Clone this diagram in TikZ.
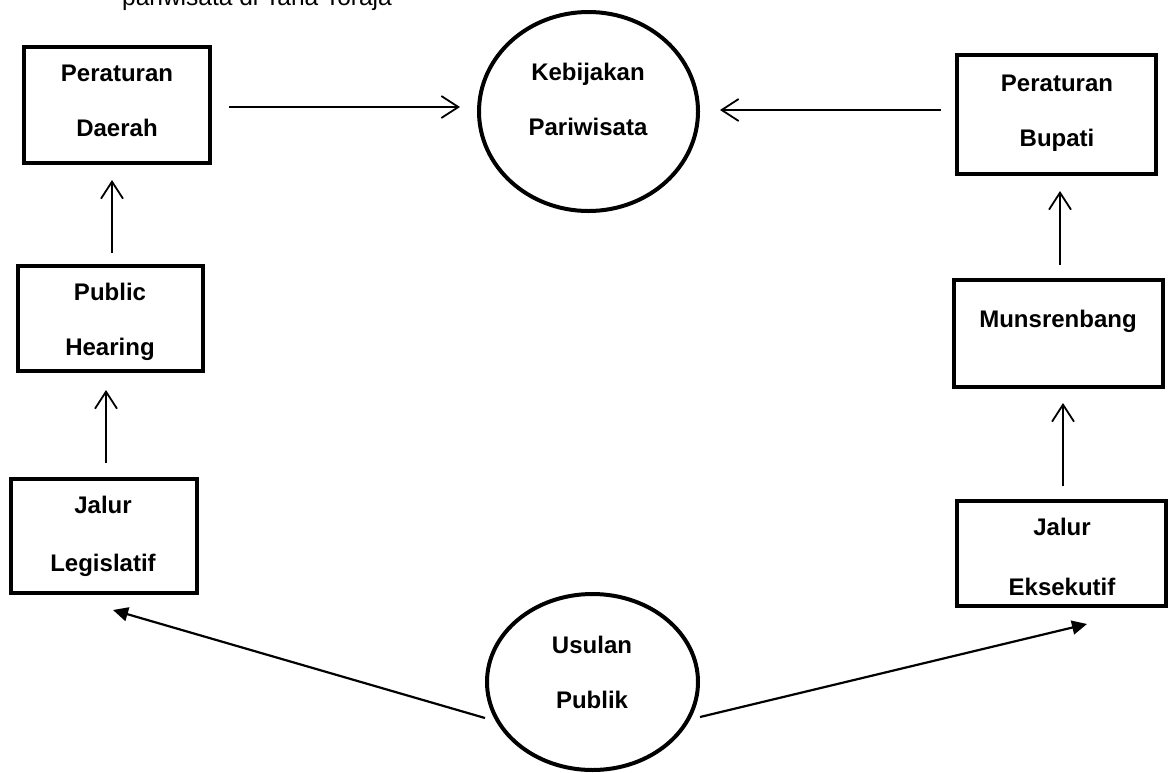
\documentclass[tikz,border=0pt]{standalone}
\usepackage{fontspec}
\setmainfont{Liberation Sans}
\usetikzlibrary{shapes.geometric,arrows.meta,calc}
\begin{document}
\begin{tikzpicture}[x=1pt,y=-1pt,
  boxnode/.style={draw,line width=4pt,rectangle,inner sep=0pt},
  ovalnode/.style={draw,line width=4pt,ellipse,inner sep=0pt},
  lbl/.style={anchor=base,inner sep=0pt,font=\bfseries\fontsize{24}{28}\selectfont},
  openarr/.style={line width=1.8pt,-{Straight Barb[length=17pt,width=22pt,line width=1.8pt]}},
  fillarr/.style={line width=2.2pt,-{Triangle[length=15pt,width=14pt]}}]
\useasboundingbox (0,0) rectangle (1170,772);
\clip (0,0) rectangle (1170,772);
\fill[white] (0,0) rectangle (1170,772);

\node[anchor=base west,inner sep=0pt,font=\fontsize{24.5}{28}\selectfont] (title) at (122,5) {pariwisata di Tana Toraja};

% shapes
\node[boxnode,minimum width=186pt,minimum height=116pt] (pd) at (117,105) {};
\node[boxnode,minimum width=185pt,minimum height=105pt] (ph) at (110.5,318.5) {};
\node[boxnode,minimum width=186pt,minimum height=114pt] (jl) at (104,536) {};
\node[ovalnode,minimum width=219pt,minimum height=199pt] (keb) at (588.5,111.5) {};
\node[boxnode,minimum width=199pt,minimum height=119pt] (pb) at (1056.5,114.5) {};
\node[boxnode,minimum width=209pt,minimum height=107pt] (mu) at (1058.5,333.5) {};
\node[boxnode,minimum width=209pt,minimum height=105pt] (je) at (1061.5,553.5) {};
\node[ovalnode,minimum width=211pt,minimum height=176pt] (us) at (592.5,682) {};

% labels
\node[lbl] (pd1) at (117,81.6) {Peraturan};
\node[lbl] (pd2) at (117,136.6) {Daerah};
\node[lbl] (ph1) at (110,300.6) {Public};
\node[lbl] (ph2) at (110,355.6) {Hearing};
\node[lbl] (jl1) at (103,513.6) {Jalur};
\node[lbl] (jl2) at (103,571.6) {Legislatif};
\node[lbl] (keb1) at (588,80.6) {Kebijakan};
\node[lbl] (keb2) at (588,135.6) {Pariwisata};
\node[lbl] (pb1) at (1057,91.6) {Peraturan};
\node[lbl] (pb2) at (1057,146.6) {Bupati};
\node[lbl] (mu1) at (1058,327.6) {Munsrenbang};
\node[lbl] (je1) at (1062,535.6) {Jalur};
\node[lbl] (je2) at (1062,595.6) {Eksekutif};
\node[lbl] (us1) at (592,653.6) {Usulan};
\node[lbl] (us2) at (592,708.6) {Publik};

% connectors
\draw[openarr] ($(pd.east)+(17,2)$) -- ($(keb.west)+(-17,-4.5)$);
\draw[openarr] ($(pb.west)+(-14,-4.5)$) -- ($(keb.east)+(20,-1.5)$);
\draw[openarr] ($(ph.north)+(1.5,-11)$) -- ($(pd.south)+(-5,15)$);
\draw[openarr] ($(jl.north)+(2,-14)$) -- ($(ph.south)+(-4.5,17)$);
\draw[openarr] ($(mu.north)+(1.5,-13)$) -- ($(pb.south)+(3.5,15)$);
\draw[openarr] ($(je.north)+(1.5,-13)$) -- ($(mu.south)+(4.5,14)$);
\draw[fillarr] ($(us.west)+(0,36)$) -- ($(jl.south)+(9,15)$);
\draw[fillarr] ($(us.east)+(0,35)$) -- ($(je.south)+(25.5,16)$);
\end{tikzpicture}
\end{document}
